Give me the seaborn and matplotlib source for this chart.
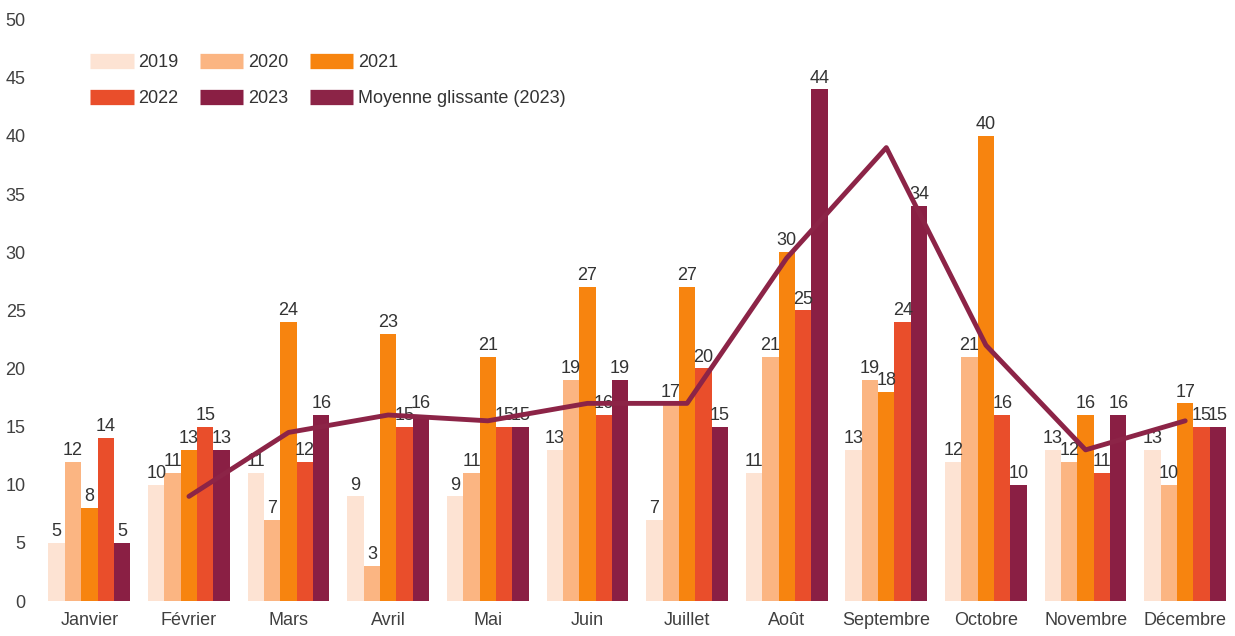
import pandas as pd
import numpy as np
import matplotlib.pyplot as plt
from matplotlib.lines import Line2D
import seaborn as sns

sns.set_style("white")
plt.rcParams['font.family'] = ['Liberation Sans', 'DejaVu Sans']

mois = ["Janvier", "Février", "Mars", "Avril", "Mai", "Juin", "Juillet",
        "Août", "Septembre", "Octobre", "Novembre", "Décembre"]
annees = ["2019", "2020", "2021", "2022", "2023"]

v2019 = [5, 10, 11, 9, 9, 13, 7, 11, 13, 12, 13, 13]
v2020 = [12, 11, 7, 3, 11, 19, 17, 21, 19, 21, 12, 10]
v2021 = [8, 13, 24, 23, 21, 27, 27, 30, 18, 40, 16, 17]
v2022 = [14, 15, 12, 15, 15, 16, 20, 25, 24, 16, 11, 15]
v2023 = [5, 13, 16, 16, 15, 19, 15, 44, 34, 10, 16, 15]
moyenne = [np.nan, 9, 14.5, 16, 15.5, 17, 17, 29.5, 39, 22, 13, 15.5]

couleurs = ["#fde3d3", "#fbb582", "#f7840f", "#e94e2b", "#8a1f44"]
couleur_ligne = "#8c2447"

df = pd.DataFrame({
    "mois": mois * 5,
    "annee": np.repeat(annees, 12),
    "valeur": v2019 + v2020 + v2021 + v2022 + v2023,
})

fig = plt.figure(figsize=(12.35, 6.36), dpi=100)
ax = fig.add_axes([0.032, 0.055, 0.968, 0.914])

sns.barplot(data=df, x="mois", y="valeur", hue="annee", order=mois,
            hue_order=annees, palette=couleurs, width=0.82, gap=0,
            saturation=1, linewidth=0, ax=ax, legend=False)

for c in ax.containers:
    ax.bar_label(c, fontsize=13, color="#333333", padding=2)

sns.lineplot(x=np.arange(len(mois)), y=moyenne, color=couleur_ligne,
             linewidth=3.5, ax=ax, zorder=5)

ax.set_xlim(-0.5, 11.5)
ax.set_ylim(0, 50)
ax.set_yticks(range(0, 51, 5))
ax.set_xlabel("")
ax.set_ylabel("")
ax.tick_params(axis="both", length=0, labelsize=13, labelcolor="#404040")
ax.tick_params(axis="x", pad=8)
ax.tick_params(axis="y", pad=10)
sns.despine(ax=ax, left=True, bottom=True)

# légende en 3 colonnes, poignées rectangulaires
poignees = [Line2D([0], [0], color=c, lw=11, solid_capstyle="butt") for c in couleurs]
poignees.append(Line2D([0], [0], color=couleur_ligne, lw=11, solid_capstyle="butt"))
noms = annees + ["Moyenne glissante (2023)"]
ordre = [0, 3, 1, 4, 2, 5]
fig.legend([poignees[i] for i in ordre], [noms[i] for i in ordre], ncol=3,
           loc="upper left", bbox_to_anchor=(0.060, 0.940), frameon=False,
           fontsize=13, handlelength=2.4, columnspacing=1.2, labelspacing=1.05,
           handletextpad=0.25, labelcolor="#333333")

plt.savefig("out.png", dpi=100)
